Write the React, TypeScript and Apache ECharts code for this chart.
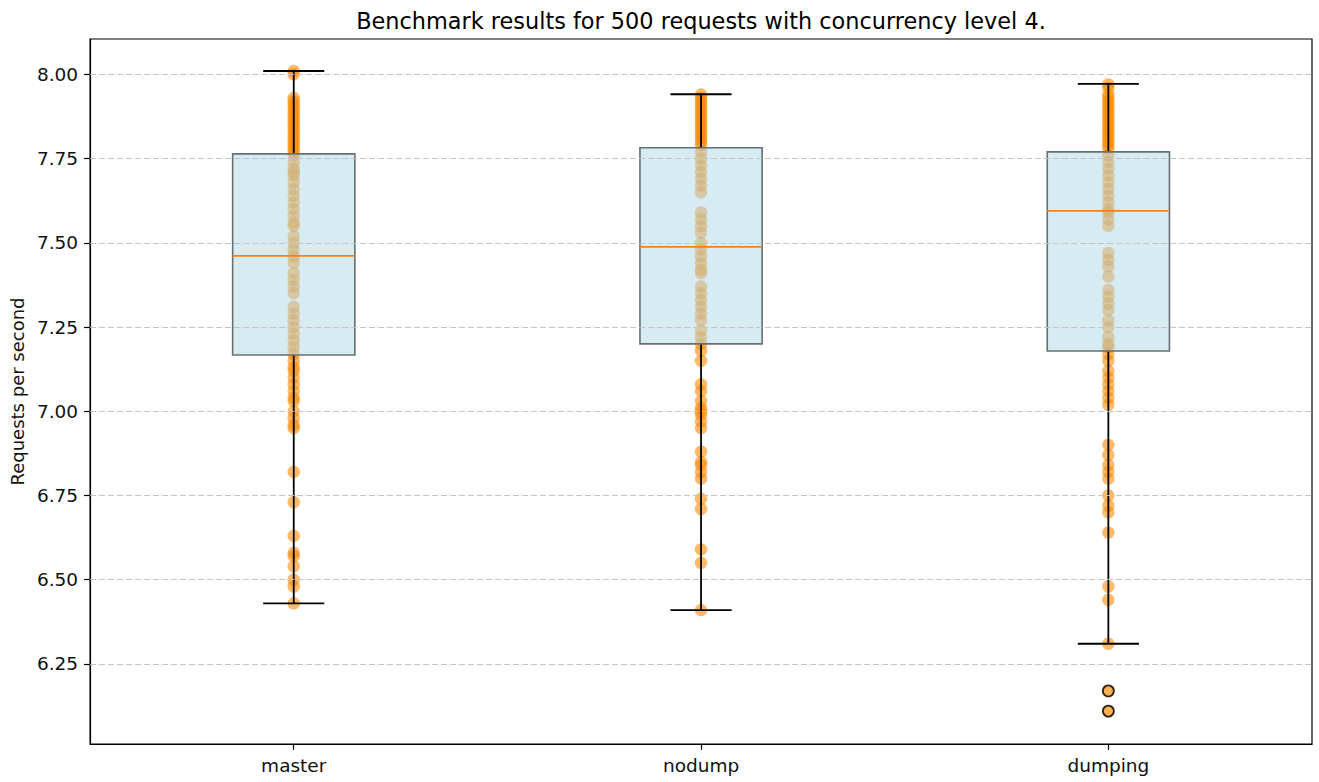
import React, { useEffect, useRef } from "react";
import * as echarts from "echarts";

const categories = ["master", "nodump", "dumping"];

const masterValues = [
  8.01, 8.0,
  7.93, 7.92, 7.91, 7.9, 7.89, 7.88, 7.87, 7.86, 7.85, 7.84, 7.83, 7.82, 7.81, 7.8, 7.79, 7.78, 7.77,
  7.76, 7.74, 7.72, 7.71, 7.7, 7.68, 7.66, 7.64, 7.62, 7.6, 7.58,
  7.56, 7.55, 7.52, 7.5, 7.48, 7.46, 7.44, 7.41, 7.39, 7.37, 7.35,
  7.31, 7.29, 7.27, 7.25, 7.23, 7.21, 7.19, 7.17,
  7.15, 7.13, 7.12, 7.1, 7.08, 7.06, 7.04, 7.03, 7.0, 6.98, 6.96, 6.95,
  6.82, 6.73, 6.63, 6.58, 6.57, 6.54, 6.5, 6.48, 6.43,
];

const nodumpValues = [
  7.94, 7.93, 7.92, 7.91, 7.9, 7.89, 7.88, 7.87, 7.86, 7.85, 7.84, 7.83, 7.82, 7.81, 7.8, 7.79,
  7.77, 7.75, 7.73, 7.71, 7.69, 7.67, 7.65,
  7.59, 7.57, 7.55, 7.53, 7.5, 7.48, 7.46, 7.44, 7.42, 7.41,
  7.37, 7.35, 7.33, 7.31, 7.29, 7.27, 7.24, 7.22, 7.2, 7.18,
  7.15, 7.08, 7.06, 7.03, 7.01, 7.0, 6.99, 6.97, 6.95,
  6.88, 6.85, 6.84, 6.82, 6.8, 6.74, 6.71, 6.59, 6.55, 6.41,
];

const dumpingValues = [
  7.97, 7.96, 7.94, 7.93, 7.92, 7.91, 7.9, 7.89, 7.88, 7.87, 7.86, 7.85, 7.84, 7.83, 7.82, 7.81, 7.8, 7.79, 7.78,
  7.76, 7.74, 7.72, 7.7, 7.68, 7.66, 7.64, 7.62, 7.6, 7.59, 7.57, 7.55,
  7.47, 7.45, 7.43, 7.4, 7.36, 7.34, 7.32, 7.3, 7.27, 7.25, 7.22, 7.2, 7.19,
  7.17, 7.15, 7.12, 7.1, 7.08, 7.06, 7.04, 7.02,
  6.9, 6.87, 6.84, 6.82, 6.8, 6.75, 6.72, 6.7, 6.64, 6.48, 6.44, 6.31, 6.17, 6.11,
];

const whiskerLow = [6.43, 6.41, 6.31];
const quartile1 = [7.167, 7.2, 7.179];
const medians = [7.461, 7.488, 7.595];
const quartile3 = [7.764, 7.782, 7.77];
const whiskerHigh = [8.01, 7.941, 7.972];

const outlierCategories = ["dumping", "dumping"];
const outlierValues = [6.17, 6.11];

const yTicks = [6.25, 6.5, 6.75, 7.0, 7.25, 7.5, 7.75, 8.0];
const yMin = 6.0124;
const yMax = 8.105;

const FONT = "DejaVu Sans";

export default function App() {
  const ref = useRef<HTMLDivElement>(null);

  useEffect(() => {
    if (!ref.current) return;
    const chart = echarts.init(ref.current, null, { renderer: "svg" });

    const allSeriesValues = [masterValues, nodumpValues, dumpingValues];
    const pointData: any[] = [];
    allSeriesValues.forEach((vals, i) => {
      vals.forEach((v) => pointData.push([i, v]));
    });

    const boxData = categories.map((c, i) => [
      i,
      whiskerLow[i],
      quartile1[i],
      medians[i],
      quartile3[i],
      whiskerHigh[i],
    ]);

    const outlierData = outlierValues.map((v, i) => [
      categories.indexOf(outlierCategories[i]),
      v,
    ]);

    const option: any = {
      animation: false,
      graphic: [
        {
          type: "text",
          x: 701,
          y: 21,
          style: {
            text: "Benchmark results for 500 requests with concurrency level 4.",
            fontFamily: FONT,
            fontSize: 22.4,
            fill: "#000",
            textAlign: "center",
            textVerticalAlign: "middle",
          },
        },
      ],
      grid: {
        left: 90,
        right: 7,
        top: 39,
        bottom: 38,
        show: true,
        borderColor: "#000",
        borderWidth: 1.2,
        backgroundColor: "transparent",
      },
      xAxis: {
        type: "category",
        data: categories,
        boundaryGap: true,
        axisLine: { show: true, lineStyle: { color: "#000", width: 1.2 } },
        axisTick: {
          show: true,
          alignWithLabel: true,
          length: 6,
          lineStyle: { color: "#000", width: 1.2 },
        },
        axisLabel: {
          fontFamily: FONT,
          fontSize: 18.5,
          color: "#111",
          margin: 12,
        },
        splitLine: { show: false },
      },
      yAxis: {
        type: "value",
        min: yMin,
        max: yMax,
        name: "Requests per second",
        nameLocation: "middle",
        nameGap: 64,
        nameTextStyle: { fontFamily: FONT, fontSize: 18, color: "#111" },
        axisLine: { show: true, lineStyle: { color: "#000", width: 1.2 } },
        axisTick: {
          show: true,
          length: 6,
          customValues: yTicks,
          lineStyle: { color: "#000", width: 1.2 },
        },
        axisLabel: {
          fontFamily: FONT,
          fontSize: 18.5,
          color: "#111",
          margin: 12,
          customValues: yTicks,
          formatter: (v: number) => v.toFixed(2),
        },
        splitLine: { show: false },
      },
      series: [
        {
          type: "line",
          data: [],
          z: 1,
          silent: true,
          markLine: {
            silent: true,
            symbol: ["none", "none"],
            label: { show: false },
            lineStyle: { color: "#c4c4c4", type: [6, 3], width: 1.1 },
            data: yTicks.map((v) => ({ yAxis: v })),
          },
        },
        {
          type: "scatter",
          data: pointData,
          z: 2,
          symbol: "circle",
          symbolSize: 12.5,
          itemStyle: { color: "rgba(250,135,0,0.72)" },
        },
        {
          type: "custom",
          z: 3,
          data: boxData,
          encode: { x: 0, y: [1, 2, 3, 4, 5] },
          renderItem: (params: any, api: any) => {
            const idx = api.value(0);
            const band = api.size([1, 0])[0];
            const half = band * 0.15;
            const capHalf = band * 0.075;
            const pLow = api.coord([idx, api.value(1)]);
            const pQ1 = api.coord([idx, api.value(2)]);
            const pMed = api.coord([idx, api.value(3)]);
            const pQ3 = api.coord([idx, api.value(4)]);
            const pHigh = api.coord([idx, api.value(5)]);
            const cx = pLow[0];
            const whisker = { stroke: "#000", lineWidth: 1.8 };
            return {
              type: "group",
              children: [
                { type: "line", shape: { x1: cx, y1: pQ1[1], x2: cx, y2: pLow[1] }, style: whisker },
                { type: "line", shape: { x1: cx, y1: pQ3[1], x2: cx, y2: pHigh[1] }, style: whisker },
                { type: "line", shape: { x1: cx - capHalf, y1: pLow[1], x2: cx + capHalf, y2: pLow[1] }, style: whisker },
                { type: "line", shape: { x1: cx - capHalf, y1: pHigh[1], x2: cx + capHalf, y2: pHigh[1] }, style: whisker },
                {
                  type: "rect",
                  shape: { x: cx - half, y: pQ3[1], width: half * 2, height: pQ1[1] - pQ3[1] },
                  style: { fill: "rgba(173,216,230,0.5)", stroke: "#657072", lineWidth: 1.6 },
                },
                {
                  type: "line",
                  shape: { x1: cx - half, y1: pMed[1], x2: cx + half, y2: pMed[1] },
                  style: { stroke: "#ff7f0e", lineWidth: 1.8 },
                },
              ],
            };
          },
        },
        {
          type: "scatter",
          data: outlierData,
          z: 4,
          symbol: "circle",
          symbolSize: 11,
          itemStyle: { color: "rgba(255,140,0,0.25)", borderColor: "#000", borderWidth: 1.8 },
        },
      ],
    };

    chart.setOption(option);
    return () => chart.dispose();
  }, []);

  return (
    <div
      ref={ref}
      style={{ position: "fixed", left: 0, top: 0, width: 1319, height: 782, background: "#fff" }}
    />
  );
}
